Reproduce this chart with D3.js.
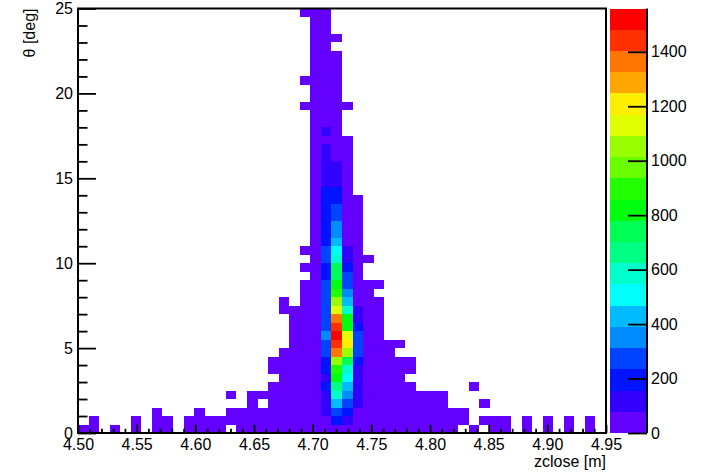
<!DOCTYPE html>
<html>
<head>
<meta charset="utf-8">
<script src="https://cdn.jsdelivr.net/npm/d3@7"></script>
<style>
  html, body { margin: 0; padding: 0; background: #fff; }
  svg { display: block; font-family: "Liberation Sans", Arial, sans-serif; }
</style>
</head>
<body>
<div id="chart"></div>
<script>
// theta vs zclose, 2D histogram drawn ROOT "COLZ" style
// 50 x 50 bins: zclose 4.50..4.95 m (0.009 per bin), theta 0..25 deg (0.5 per bin)
const xRange = [4.50, 4.95];
const yRange = [0, 25];
const nBinsX = 50;
const nBinsY = 50;

// per theta row (row 0 = 0..0.5 deg): first and last filled zclose bin
const rowLo = [0, 1, 7, 16, 14, 18, 19, 18, 18, 19,
               20, 20, 20, 20, 19, 19, 21, 21, 22, 21,
               22, 21, 22, 22, 22, 22, 22, 22, 22, 22,
               22, 22, 22, 22, 22, 22, 22, 22, 21, 22,
               22, 21, 22, 22, 22, 22, 22, 22, 22, 21];
const rowHi = [48, 48, 36, 34, 34, 31, 30, 31, 31, 29,
               30, 28, 28, 28, 28, 28, 27, 28, 26, 26,
               27, 26, 26, 26, 26, 26, 26, 26, 25, 25,
               25, 25, 25, 25, 25, 24, 24, 24, 25, 24,
               24, 24, 24, 24, 24, 23, 24, 23, 23, 23];

// empty bins inside those ranges, [row, col]
const holes = [
  [0, 2], [0, 4], [0, 6], [0, 9], [0, 14], [0, 36], [0, 38], [0, 41], [0, 43], [0, 45], [0, 47],
  [1, 2], [1, 3], [1, 4], [1, 6], [1, 9], [1, 37], [1, 41], [1, 43], [1, 45], [1, 47],
  [2, 8], [2, 9], [2, 10], [2, 12], [2, 13],
  [3, 17], [4, 15], [15, 20]
];
// lone filled bins outside the ranges, [row, col]
const strays = [[3, 38], [5, 37]];

// counts of the core columns (bins 23..26, zclose ~4.707..4.743), by theta row
const col23 = [45, 70, 110, 120, 105, 185, 140, 200, 210, 265,
               275, 345, 280, 270, 265, 260, 255, 265, 215, 200,
               250, 255, 210, 200, 195, 190, 185, 180, 170, 140,
               130, 125, 115, 105, 70, 95, 60, 55, 50, 45,
               40, 40, 35, 30, 30, 25, 20, 20, 15, 10];
const col24 = [60, 195, 275, 430, 590, 665, 820, 900, 1050, 1370,
               1445, 1559, 1440, 1360, 1130, 1055, 890, 815, 750, 735,
               590, 510, 430, 355, 345, 275, 265, 200, 190, 120,
               110, 100, 65, 60, 55, 50, 45, 40, 40, 35,
               30, 30, 25, 25, 20, 0, 15, 0, 0, 0];
const col25 = [50, 120, 195, 270, 350, 430, 505, 585, 740, 1050,
               1210, 1130, 820, 830, 580, 425, 350, 270, 260, 195,
               120, 110, 70, 60, 55, 50, 45, 40, 35, 30,
               30, 25, 25, 20, 15, 0, 0, 0, 10, 0,
               0, 0, 0, 0, 0, 0, 0, 0, 0, 0];
const col26 = [40, 45, 60, 95, 110, 115, 120, 125, 190, 255,
               265, 270, 200, 130, 100, 60, 50, 45, 40, 35,
               30, 25, 20, 20, 15, 15, 10, 10, 0, 0,
               0, 0, 0, 0, 0, 0, 0, 0, 0, 0,
               0, 0, 0, 0, 0, 0, 0, 0, 0, 0];
// all other filled bins sit in the lowest colour band
const lowBandCount = 20;

const xTickLabels = ["4.50", "4.55", "4.60", "4.65", "4.70", "4.75", "4.80", "4.85", "4.90", "4.95"];
const yTickLabels = ["0", "5", "10", "15", "20", "25"];
const zTickLabels = ["0", "200", "400", "600", "800", "1000", "1200", "1400"];

// ---- build bins ----
const coreCounts = { 23: col23, 24: col24, 25: col25, 26: col26 };
const holeSet = new Set(holes.map(([r, c]) => r * 100 + c));
const bins = [];
for (let j = 0; j < nBinsY; j++) {
  for (let i = rowLo[j]; i <= rowHi[j]; i++) {
    if (holeSet.has(j * 100 + i)) continue;
    const v = coreCounts[i] ? coreCounts[i][j] : lowBandCount;
    if (v > 0) bins.push({ i, j, v });
  }
}
strays.forEach(([j, i]) => bins.push({ i, j, v: lowBandCount }));

// ---- layout ----
const W = 706, H = 473;
const plot = { left: 78, right: 606, top: 8.5, bottom: 433 };
const pal = { left: 610, right: 647 };

const svg = d3.select("#chart").append("svg")
    .attr("width", W)
    .attr("height", H);

const x = d3.scaleLinear().domain(xRange).range([plot.left, plot.right]);
const y = d3.scaleLinear().domain(yRange).range([plot.bottom, plot.top]);
const xEdge = i => xRange[0] + i * (xRange[1] - xRange[0]) / nBinsX;
const yEdge = j => yRange[0] + j * (yRange[1] - yRange[0]) / nBinsY;

// old ROOT "pretty" palette (violet -> red), 20 contour levels
const nLevels = 20;
const levelColors = d3.range(nLevels).map(k => {
  const idx = Math.floor((k + 0.99) * 50 / nLevels);
  if (idx >= 49) return "#ff0000";
  return d3.hsl(280 - (idx + 1) * 280 / 50, 1, 0.5).formatHex();
});
const zmax = d3.max(bins, d => d.v);
const color = d3.scaleQuantize().domain([0, zmax]).range(levelColors);

// ---- bins ----
svg.append("g")
    .attr("shape-rendering", "crispEdges")
  .selectAll("rect")
  .data(bins)
  .enter().append("rect")
    .attr("x", d => Math.round(x(xEdge(d.i))))
    .attr("width", d => Math.round(x(xEdge(d.i + 1))) - Math.round(x(xEdge(d.i))))
    .attr("y", d => Math.round(y(yEdge(d.j + 1))))
    .attr("height", d => Math.round(y(yEdge(d.j))) - Math.round(y(yEdge(d.j + 1))))
    .attr("fill", d => color(d.v));

// ---- axes ----
const styleAxis = g => {
  g.select(".domain").remove();
  g.selectAll(".tick line").attr("stroke", "#000").attr("stroke-width", 1.8);
  g.selectAll("text").attr("fill", "#000").attr("font-size", 16)
      .attr("font-family", "'Liberation Sans', Arial, sans-serif");
};

const xMajor = xTickLabels.map(Number);
const xMinor = d3.range(0, 46).filter(k => k % 5 !== 0).map(k => 4.5 + k * 0.01);
const yMajor = yTickLabels.map(Number);
const yMinor = d3.range(0, 26).filter(k => k % 5 !== 0);

svg.append("g")
    .attr("transform", `translate(0,${plot.bottom})`)
    .call(d3.axisBottom(x).tickValues(xMinor).tickSize(-4.2).tickFormat(""))
    .call(styleAxis);
svg.append("g")
    .attr("transform", `translate(0,${plot.bottom})`)
    .call(d3.axisBottom(x).tickValues(xMajor).tickSize(-8.3).tickPadding(5.6)
      .tickFormat((d, i) => xTickLabels[i]))
    .call(styleAxis);

svg.append("g")
    .attr("transform", `translate(${plot.left},0)`)
    .call(d3.axisLeft(y).tickValues(yMinor).tickSize(-9.5).tickFormat(""))
    .call(styleAxis);
svg.append("g")
    .attr("transform", `translate(${plot.left},0)`)
    .call(d3.axisLeft(y).tickValues(yMajor).tickSize(-18).tickPadding(5)
      .tickFormat((d, i) => yTickLabels[i]))
    .call(styleAxis);

// frame
svg.append("rect")
    .attr("x", plot.left).attr("y", plot.top)
    .attr("width", plot.right - plot.left).attr("height", plot.bottom - plot.top)
    .attr("fill", "none").attr("stroke", "#000").attr("stroke-width", 2);

// ---- palette ----
const z = d3.scaleLinear().domain([0, zmax]).range([plot.bottom, plot.top]);
const step = zmax / nLevels;
svg.append("g")
    .attr("shape-rendering", "crispEdges")
  .selectAll("rect")
  .data(levelColors)
  .enter().append("rect")
    .attr("x", pal.left)
    .attr("width", pal.right - pal.left)
    .attr("y", (c, k) => Math.round(z((k + 1) * step)))
    .attr("height", (c, k) => Math.round(z(k * step)) - Math.round(z((k + 1) * step)))
    .attr("fill", c => c);

svg.append("g")
    .attr("transform", `translate(${pal.right},0)`)
    .call(d3.axisRight(z).tickValues(zTickLabels.map(Number)).tickSize(-19).tickPadding(4)
      .tickFormat((d, i) => zTickLabels[i]))
    .call(styleAxis);
svg.append("line")
    .attr("x1", pal.right).attr("x2", pal.right)
    .attr("y1", plot.top).attr("y2", plot.bottom)
    .attr("stroke", "#000").attr("stroke-width", 2);

// ---- titles ----
svg.append("text")
    .attr("x", plot.right).attr("y", 467)
    .attr("text-anchor", "end")
    .attr("font-size", 16)
    .text("zclose [m]");
svg.append("text")
    .attr("transform", `translate(35,${plot.top}) rotate(-90)`)
    .attr("text-anchor", "end")
    .attr("font-size", 16)
    .text("θ [deg]");
</script>
</body>
</html>
